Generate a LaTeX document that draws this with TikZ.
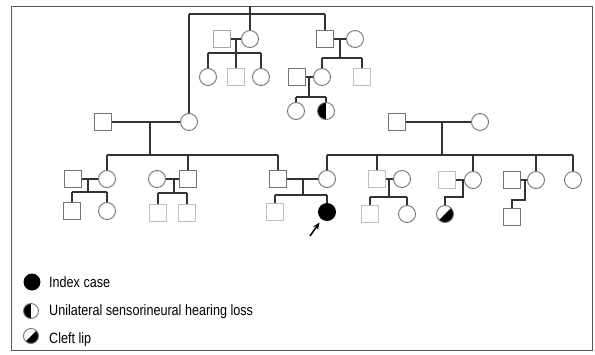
\documentclass[tikz,border=0pt]{standalone}
\usepackage{fontspec}
\setmainfont{Liberation Sans}
\newfontfamily\legendfont[FakeStretch=0.84]{Liberation Sans}
\usetikzlibrary{arrows.meta}
\tikzset{
  sym/.style={draw=black!55, line width=0.9pt, minimum size=17pt, inner sep=0pt},
  male/.style={sym, rectangle},
  female/.style={sym, circle},
  faintmale/.style={male, draw=black!25},
  affected/.style={female, draw=black, fill=black},
  hearing/.style={female, path picture={\fill[black] (path picture bounding box.north west) rectangle (path picture bounding box.south);}},
  cleft/.style={female, path picture={\fill[black] (path picture bounding box.north east) -- (path picture bounding box.south east) -- (path picture bounding box.south west) -- cycle;}},
  link/.style={draw=black!80, line width=1.5pt},
  legendtext/.style={anchor=base west, inner sep=0pt, font=\legendfont\fontsize{15}{17}\selectfont},
}
\begin{document}
\begin{tikzpicture}[x=1pt, y=-1pt]
\useasboundingbox (0,0) rectangle (595,354);
% outer frame
\draw[black!65, line width=1pt] (11,6) rectangle (592,350);
\coordinate (top) at (250,6);

% generation I (children of the top sibship) and their spouses
\node[male, draw=black!35] (sqA) at (222,39) {};
\node[female] (ciA) at (250,39) {};
\node[male] (sqB) at (325,39) {};
\node[female] (ciB) at (355,39) {};

% their children
\node[female] (c1) at (208,77) {};
\node[faintmale] (c2) at (236,77) {};
\node[female] (c3) at (261,77) {};
\node[male] (sqC) at (297,77) {};
\node[female] (ciC) at (322,77) {};
\node[faintmale] (c4) at (362,77) {};
\node[female] (d1) at (296,111) {};
\node[hearing] (d2) at (326,111) {};

% generation II
\node[male] (sqD) at (103,122) {};
\node[female] (ciD) at (189,122) {};
\node[male] (sqE) at (397,122) {};
\node[female] (ciE) at (480,122) {};

% generation III
\node[male] (sqF) at (73,179) {};
\node[female] (ciF) at (107,179) {};
\node[female] (ciG) at (157,179) {};
\node[male] (sqG) at (188,179) {};
\node[male] (sqH) at (278,179) {};
\node[female] (ciH) at (327,179) {};
\node[faintmale] (sqI) at (377,179) {};
\node[female] (ciI) at (402,179) {};
\node[faintmale] (sqJ) at (447,180) {};
\node[female] (ciJ) at (473,180) {};
\node[male] (sqK) at (512,180) {};
\node[female] (ciK) at (536,180) {};
\node[female] (ciL) at (573,180) {};

% generation IV
\node[male] (e1) at (72,211) {};
\node[female] (e2) at (107,211) {};
\node[faintmale] (e3) at (158,213) {};
\node[faintmale] (e4) at (187,213) {};
\node[faintmale] (e5) at (275,212) {};
\node[affected] (ix) at (327,212) {};
\node[faintmale] (e6) at (370,214) {};
\node[female] (e7) at (407,214) {};
\node[cleft] (e8) at (445,214) {};
\node[male] (e9) at (512,217) {};

% proband arrow
\coordinate (arrowtail) at (310,236);
\draw[link, draw=black, -{Stealth[length=7pt,width=6pt]}, shorten >=4pt] (arrowtail) -- (ix);

% top sibship
\draw[link] (top) -- (250,14);
\draw[link] (ciD |- 0,14) -- (sqB |- 0,14);
\draw[link] (ciD |- 0,14) -- (ciD);
\draw[link] (ciA |- 0,14) -- (ciA);
\draw[link] (sqB |- 0,14) -- (sqB);

% couple sqA + ciA
\draw[link] (sqA) -- (ciA);
\coordinate (mA) at (236,39);
\draw[link] (mA) -- (236,53);
\draw[link] (c1 |- 0,53) -- (c3 |- 0,53);
\foreach \k in {c1,c2,c3} \draw[link] (\k |- 0,53) -- (\k);

% couple sqB + ciB
\draw[link] (sqB) -- (ciB);
\coordinate (mB) at (340,39);
\draw[link] (mB) -- (340,58);
\draw[link] (ciC |- 0,58) -- (c4 |- 0,58);
\foreach \k in {ciC,c4} \draw[link] (\k |- 0,58) -- (\k);

% couple sqC + ciC
\draw[link] (sqC) -- (ciC);
\coordinate (mC) at (309,77);
\draw[link] (mC) -- (309,97);
\draw[link] (d1 |- 0,97) -- (d2 |- 0,97);
\foreach \k in {d1,d2} \draw[link] (\k |- 0,97) -- (\k);

% couple sqD + ciD
\draw[link] (sqD) -- (ciD);
\coordinate (mD) at (150,122);
\draw[link] (mD) -- (150,155);
\draw[link] (ciF |- 0,155) -- (sqH |- 0,155);
\foreach \k in {ciF,sqG,sqH} \draw[link] (\k |- 0,155) -- (\k);

% couple sqE + ciE
\draw[link] (sqE) -- (ciE);
\coordinate (mE) at (442,122);
\draw[link] (mE) -- (442,155);
\draw[link] (ciH |- 0,155) -- (ciL |- 0,155);
\foreach \k in {ciH,sqI,ciJ,ciK,ciL} \draw[link] (\k |- 0,155) -- (\k);

% couple sqF + ciF
\draw[link] (sqF) -- (ciF);
\coordinate (mF) at (88,179);
\draw[link] (mF) -- (88,192);
\draw[link] (e1 |- 0,192) -- (e2 |- 0,192);
\foreach \k in {e1,e2} \draw[link] (\k |- 0,192) -- (\k);

% couple ciG + sqG
\draw[link] (ciG) -- (sqG);
\coordinate (mG) at (174,179);
\draw[link] (mG) -- (174,193);
\draw[link] (e3 |- 0,193) -- (e4 |- 0,193);
\foreach \k in {e3,e4} \draw[link] (\k |- 0,193) -- (\k);

% couple sqH + ciH
\draw[link] (sqH) -- (ciH);
\coordinate (mH) at (303,179);
\draw[link] (mH) -- (303,195);
\draw[link] (e5 |- 0,195) -- (ix |- 0,195);
\foreach \k in {e5,ix} \draw[link] (\k |- 0,195) -- (\k);

% couple sqI + ciI
\draw[link] (sqI) -- (ciI);
\coordinate (mI) at (389,179);
\draw[link] (mI) -- (389,197);
\draw[link] (e6 |- 0,197) -- (e7 |- 0,197);
\foreach \k in {e6,e7} \draw[link] (\k |- 0,197) -- (\k);

% couple sqJ + ciJ
\draw[link] (sqJ) -- (ciJ);
\coordinate (mJ) at (463,180);
\draw[link] (mJ) -- (463,197) -| (e8);

% couple sqK + ciK
\draw[link] (sqK) -- (ciK);
\coordinate (mK) at (525,180);
\draw[link] (mK) -- (525,200) -| (e9);

% legend
\node[affected, minimum size=16pt] (l1) at (32,282) {};
\node[legendtext] (t1) at (49,287) {Index case};
\node[hearing, minimum size=15pt] (l2) at (31,311) {};
\node[legendtext] (t2) at (49,315.5) {Unilateral sensorineural hearing loss};
\node[cleft, minimum size=15pt] (l3) at (31,336) {};
\node[legendtext] (t3) at (49,343) {Cleft lip};
\end{tikzpicture}
\end{document}
